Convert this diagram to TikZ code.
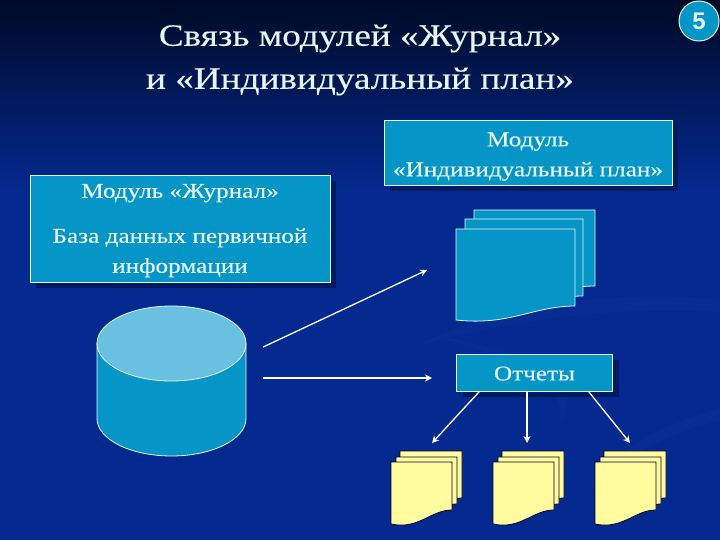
\documentclass[tikz,border=0pt]{standalone}
\usepackage{fontspec}
\setmainfont[FakeStretch=1.2, FakeBold=0.25]{Liberation Serif}
\newfontfamily\badgefont{Liberation Sans}
\usetikzlibrary{shapes.geometric, arrows.meta, positioning, calc, shadows}
\definecolor{bgtop}{HTML}{000A26}
\definecolor{bgblue}{HTML}{04298F}
\definecolor{swirlblue}{HTML}{072D92}
\definecolor{boxblue}{HTML}{0595C6}
\definecolor{lidblue}{HTML}{69C0E0}
\definecolor{shadowblue}{HTML}{021A62}
\definecolor{inkwhite}{HTML}{E6F6F6}
\definecolor{sheetyellow}{HTML}{FFFB9E}
\newcommand{\sheetpath}[4]{% left, top, width, height of the straight right edge
  (#1,#2) -- ++(#3,0) -- ++(0,#4) .. controls +(-0.35*#3,0) and +(0.45*#3,6) .. ++(-#3,14) -- cycle}

\begin{document}
\begin{tikzpicture}[
  x=1pt, y=-1pt,
  box/.style={rectangle, draw=inkwhite, line width=0.8pt, fill=boxblue, align=center, text=inkwhite, inner sep=0pt, font=\fontsize{21}{30}\selectfont, drop shadow={shadow xshift=6pt, shadow yshift=-6pt, fill=shadowblue, opacity=1}},
  arrow/.style={-{Stealth[length=7pt, width=7pt]}, draw=white, line width=1.3pt},
  bluesheet/.style={draw=inkwhite, line width=0.8pt, fill=boxblue},
  yellowsheet/.style={draw=black!85!blue, line width=0.8pt, fill=sheetyellow}
]
  \useasboundingbox (0,0) rectangle (720,540);

  % Background
  \fill[top color=bgtop, bottom color=bgblue] (0,0) rectangle (720,190);
  \fill[bgblue] (0,190) rectangle (720,540);
  \fill[swirlblue] (420,345) .. controls (500,300) and (640,290) .. (720,300) -- (720,312) .. controls (620,305) and (510,320) .. (420,345) -- cycle;
  \fill[swirlblue] (430,335) .. controls (520,350) and (590,370) .. (560,425) .. controls (570,385) and (520,360) .. (430,335) -- cycle;
  \fill[swirlblue] (590,490) .. controls (620,440) and (680,420) .. (720,408) -- (720,420) .. controls (680,430) and (630,450) .. (590,490) -- cycle;

  % Title and number
  \node[text=inkwhite, font=\fontsize{31}{43}\selectfont, align=center] (title) at (360,60) {Связь модулей «Журнал»\\и «Индивидуальный план»};
  \node[circle, draw=inkwhite, line width=1pt, fill=boxblue, minimum size=40pt, inner sep=0pt, text=inkwhite, font=\badgefont\fontsize{24}{24}\selectfont\bfseries] (badge) at (699,21) {5};

  % Boxes
  \node[box, minimum width=300pt, minimum height=107pt] (journal) at (180,228.5) {\rule{0pt}{18pt}Модуль «Журнал»\\[15pt]База данных первичной\\информации};
  \node[box, minimum width=288pt, minimum height=65pt] (plan) at (528,152.5) {\rule{0pt}{22pt}Модуль\\«Индивидуальный план»};
  \node[box, minimum width=156pt, minimum height=37pt] (reports) at (534.5,372.5) {\rule{0pt}{16pt}Отчеты};

  % Database
  \filldraw[draw=inkwhite, line width=0.8pt, fill=boxblue] (97,343.5) -- (97,418.5) arc[start angle=180, end angle=360, x radius=74.5, y radius=-37.5] -- (246,343.5) -- cycle;
  \filldraw[draw=inkwhite, line width=0.8pt, fill=lidblue] (171.5,343.5) ellipse[x radius=74.5, y radius=37.5];
  \node[minimum width=149pt, minimum height=150pt, inner sep=0pt] (db) at (171.5,381) {};

  % Blue sheets
  \filldraw[bluesheet] \sheetpath{474}{210}{121}{76};
  \filldraw[bluesheet] \sheetpath{465}{219}{118}{77};
  \filldraw[bluesheet] \sheetpath{456}{229}{119}{77};
  \coordinate (planin) at (427,270);
  \coordinate (reportsin) at (432,378);

  % Yellow sheets
  \foreach \name/\shift in {repa/0, repb/102, repc/204} {
    \filldraw[yellowsheet] \sheetpath{400+\shift}{451}{62}{47};
    \filldraw[yellowsheet] \sheetpath{396+\shift}{457}{61}{47};
    \filldraw[yellowsheet] \sheetpath{391+\shift}{462}{61}{48};
    \coordinate (\name) at (427+\shift,443);
  }

  % Arrows
  \draw[arrow] ($(db.east)+(17,-34)$) -- (planin);
  \draw[arrow] ($(db.east)+(17,-3)$) -- (reportsin);
  \draw[arrow] ($(reports.south)+(-55,0)$) -- ($(repa)+(5,0)$);
  \draw[arrow] ($(reports.south)+(-7.5,0)$) -- ($(repb)+(-2,0)$);
  \draw[arrow] ($(reports.south)+(54,0)$) -- ($(repc)+(-1,0)$);
\end{tikzpicture}
\end{document}
